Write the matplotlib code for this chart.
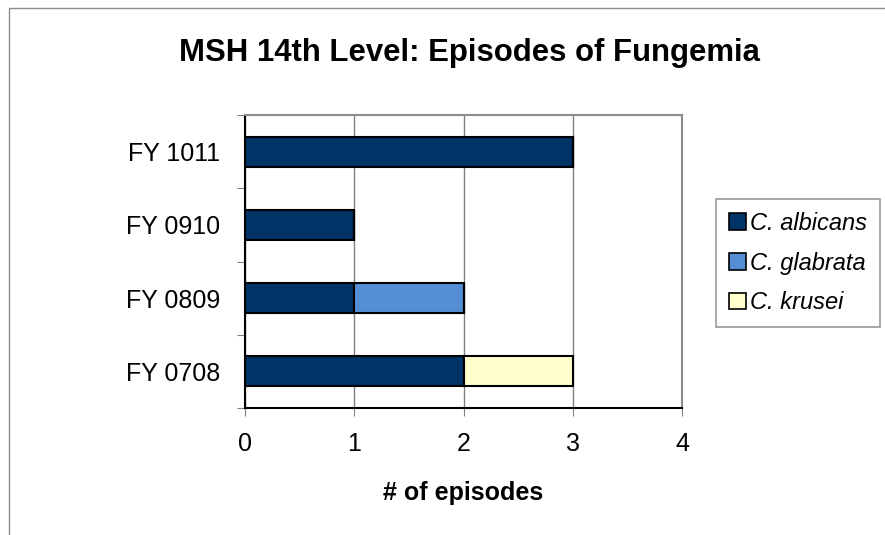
import numpy as np
import matplotlib.pyplot as plt
from matplotlib.patches import Rectangle

plt.rcParams['font.family'] = ['Liberation Sans', 'DejaVu Sans']

years = ['FY 0708', 'FY 0809', 'FY 0910', 'FY 1011']
albicans = [2, 1, 1, 3]
glabrata = [0, 1, 0, 0]
krusei = [1, 0, 0, 0]

fig = plt.figure(figsize=(8.85, 5.35), dpi=100)
# outer chart border (only left/top visible in the crop)
fig.patches.append(Rectangle((9 / 885, -0.1), 1.2, 1 - 8 / 535 + 0.1,
                             transform=fig.transFigure, fill=False,
                             edgecolor='#8c8c8c', lw=1.0))

ax = fig.add_axes([245 / 885, 1 - 408 / 535, 437 / 885, 293 / 535])

y = np.arange(len(years))
h = 0.41
ax.barh(y, albicans, h, color='#003366', edgecolor='black', lw=1.5,
        label='C. albicans', zorder=3)
ax.barh(y, glabrata, h, left=albicans, color='#558ED5', edgecolor='black',
        lw=1.5, label='C. glabrata', zorder=3)
left2 = np.array(albicans) + np.array(glabrata)
ax.barh(y, krusei, h, left=left2, color='#FFFFCC', edgecolor='black',
        lw=1.5, label='C. krusei', zorder=3)

ax.set_xlim(0, 4)
ax.set_ylim(-0.5, 3.5)
ax.set_xticks([0, 1, 2, 3, 4])
ax.set_yticks(np.arange(-0.5, 4, 1), minor=False)
ax.set_yticklabels([])
ax.set_yticks(y, minor=True)
ax.set_yticklabels(years, minor=True, fontsize=18)
ax.tick_params(axis='y', which='minor', length=0, pad=18)
ax.tick_params(axis='y', which='major', length=6, color='#808080')
ax.tick_params(axis='x', length=6, color='#808080', labelsize=18, pad=11)
ax.xaxis.grid(True, color='#808080', lw=1, zorder=0)

for s in ['top', 'right']:
    ax.spines[s].set_color('#8c8c8c')
    ax.spines[s].set_linewidth(1.5)
for s in ['left', 'bottom']:
    ax.spines[s].set_color('black')
    ax.spines[s].set_linewidth(1.5)

ax.set_xlabel('# of episodes', fontsize=18, fontweight='bold', labelpad=18)
fig.text(0.53, 1 - 53 / 535, 'MSH 14th Level: Episodes of Fungemia',
         ha='center', va='center', fontsize=22.4, fontweight='bold')

leg = ax.legend(loc='upper left', bbox_to_anchor=(716 / 885, 1 - 199 / 535),
                bbox_transform=fig.transFigure, prop={'style': 'italic', 'size': 17},
                frameon=True, fancybox=False, handlelength=0.7, handleheight=0.7,
                handletextpad=0.2, labelspacing=0.7, borderpad=0.55,
                borderaxespad=0)
leg.get_frame().set_edgecolor('#808080')
leg.get_frame().set_linewidth(1.2)
for p in leg.get_patches():
    p.set_linewidth(1.2)

fig.savefig('out.png', dpi=100)
